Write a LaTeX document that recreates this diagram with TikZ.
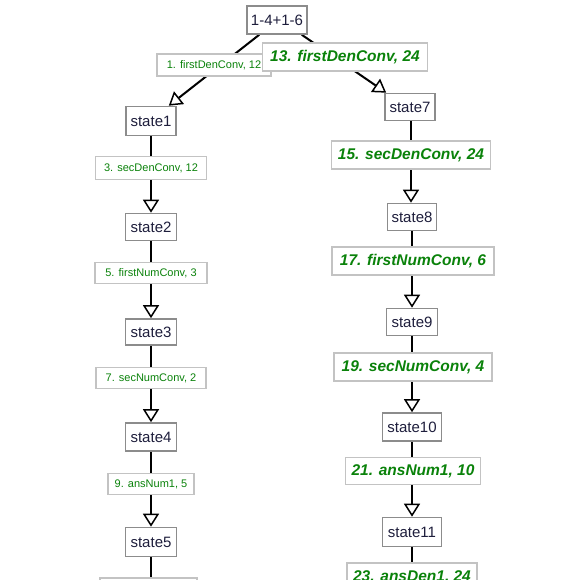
\documentclass[tikz,border=0pt]{standalone}
\usepackage{fontspec}
\setmainfont{Liberation Sans}
\usetikzlibrary{arrows.meta}
\pgfdeclarelayer{paper}
\pgfdeclarelayer{bg}
\pgfsetlayers{paper,bg,main}
\definecolor{lblgreen}{RGB}{10,130,10}
\definecolor{stateborder}{RGB}{140,140,140}
\definecolor{lblborder}{RGB}{195,195,195}
\definecolor{statetext}{RGB}{30,30,60}
\begin{document}
\begin{tikzpicture}[x=1pt,y=-1pt,
  statebox/.style={draw=stateborder, line width=1.6pt, fill=white, inner sep=0pt, text=statetext, font=\fontsize{15}{18}\selectfont},
  smalllbl/.style={draw=lblborder, line width=1.4pt, fill=white, inner sep=0pt, text=lblgreen, font=\fontsize{11}{14}\selectfont},
  biglbl/.style={draw=lblborder, line width=1.4pt, fill=white, inner sep=0pt, text=lblgreen, font=\fontsize{15.5}{18}\selectfont\bfseries\itshape},
  edge/.style={line width=2pt, draw=black, -{Triangle[fill=white, length=13pt, width=16pt, line width=1.5pt]}},
  plain/.style={line width=2pt, draw=black}
]
\begin{pgfonlayer}{paper}
\fill[white] (0,0) rectangle (580,580);
\end{pgfonlayer}
\useasboundingbox (0,0) rectangle (580,580);

% top
\node[statebox, minimum width=60pt, minimum height=28pt] (t) at (277,20) {1-4+1-6};

% left column
\node[smalllbl, minimum width=114pt, minimum height=22pt] (L1) at (214,65) {1. firstDenConv, 12};
\node[statebox, minimum width=50pt, minimum height=29pt] (s1) at (151,121) {state1};
\node[smalllbl, minimum width=111pt, minimum height=23pt] (L3) at (151,168) {3. secDenConv, 12};
\node[statebox, minimum width=51pt, minimum height=27pt] (s2) at (151,227) {state2};
\node[smalllbl, minimum width=112pt, minimum height=21pt] (L5) at (151,273) {5. firstNumConv, 3};
\node[statebox, minimum width=51pt, minimum height=26pt] (s3) at (151,332) {state3};
\node[smalllbl, minimum width=110pt, minimum height=21pt] (L7) at (151,378) {7. secNumConv, 2};
\node[statebox, minimum width=51pt, minimum height=28pt] (s4) at (151,437) {state4};
\node[smalllbl, minimum width=86pt, minimum height=21pt] (L9) at (151,484) {9. ansNum1, 5};
\node[statebox, minimum width=51pt, minimum height=29pt] (s5) at (151,542) {state5};
\node[smalllbl, minimum width=97pt, minimum height=22pt] (L11) at (148.5,589) {};

% right column
\node[biglbl, minimum width=165pt, minimum height=28pt] (L13) at (345,57) {13. firstDenConv, 24};
\node[statebox, minimum width=50pt, minimum height=27pt] (s7) at (410,107) {state7};
\node[biglbl, minimum width=159pt, minimum height=28pt] (L15) at (411,155) {15. secDenConv, 24};
\node[statebox, minimum width=49pt, minimum height=27pt] (s8) at (412,217) {state8};
\node[biglbl, minimum width=162pt, minimum height=28pt] (L17) at (413,261) {17. firstNumConv, 6};
\node[statebox, minimum width=51pt, minimum height=27pt] (s9) at (412,322) {state9};
\node[biglbl, minimum width=158pt, minimum height=28pt] (L19) at (413,367) {19. secNumConv, 4};
\node[statebox, minimum width=59pt, minimum height=28pt] (s10) at (412,427) {state10};
\node[biglbl, minimum width=135pt, minimum height=27pt] (L21) at (413,471) {21. ansNum1, 10};
\node[statebox, minimum width=59pt, minimum height=29pt] (s11) at (412,532) {state11};
\node[biglbl, minimum width=130pt, minimum height=28pt] (L23) at (412,577) {23. ansDen1, 24};

\begin{pgfonlayer}{bg}
\draw[edge] ([xshift=13pt]t.south west) -- ([xshift=-8pt]s1.north east);
\draw[edge] ([xshift=-6pt]t.south east) -- ([xshift=2pt]s7.north west);
\draw[edge] (s1.south) -- (s2.north);
\draw[edge] (s2.south) -- (s3.north);
\draw[edge] (s3.south) -- (s4.north);
\draw[edge] (s4.south) -- (s5.north);
\draw[plain] (s5.south) -- (s5.south |- L11.north);
\draw[edge] (s7.south -| L15.north) -- (L15.north |- s8.north);
\draw[edge] (s8.south) -- (s9.north);
\draw[edge] (s9.south) -- (s10.north);
\draw[edge] (s10.south) -- (s11.north);
\draw[plain] (s11.south) -- (L23.north);
\end{pgfonlayer}
\end{tikzpicture}
\end{document}
